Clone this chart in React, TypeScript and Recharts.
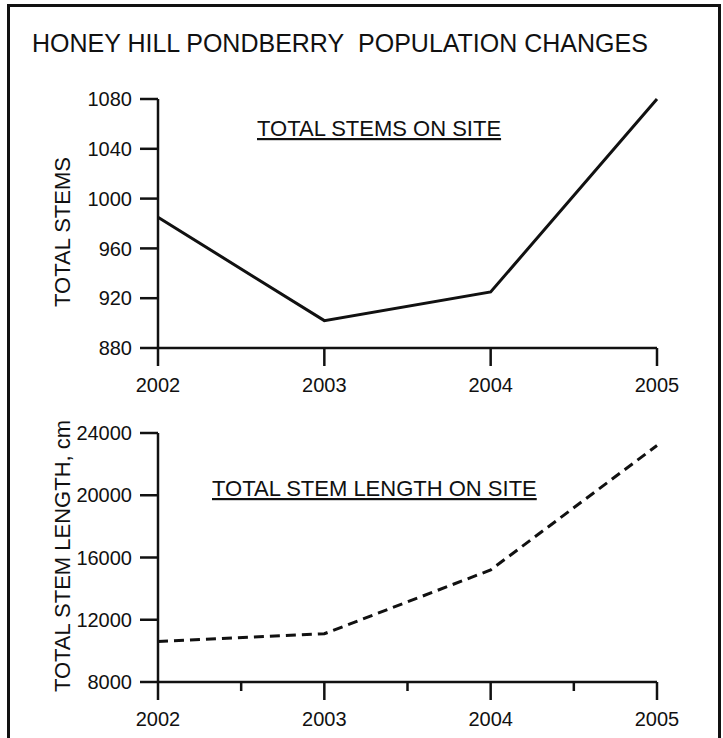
import React from "react";
import { Line, LineChart, XAxis, YAxis } from "recharts";

const YEARS = [2002, 2003, 2004, 2005];
const YEARS_WITH_HALVES = [2002, 2002.5, 2003, 2003.5, 2004, 2004.5, 2005];
const TOTAL_STEMS = [985, 902, 925, 1080];
const TOTAL_STEM_LENGTH = [10600, 11100, 15200, 23200];
const STEM_TICKS = [880, 920, 960, 1000, 1040, 1080];
const LENGTH_TICKS = [8000, 12000, 16000, 20000, 24000];

const stemsData = YEARS.map((year, i) => ({ year, value: TOTAL_STEMS[i] }));
const lengthData = YEARS.map((year, i) => ({ year, value: TOTAL_STEM_LENGTH[i] }));

const FONT = "'Liberation Sans', Arial, Helvetica, sans-serif";
const INK = "#111";
const axisLine = { stroke: INK, strokeWidth: 2.5 };
const tickFont = { fill: INK, fontSize: 20, fontFamily: FONT };

// Year ticks drawn by hand so half-year ticks can be shorter and unlabeled.
function YearTick(props: any) {
  const { x, y, payload } = props;
  const major = Number.isInteger(payload.value);
  return (
    <g>
      <line x1={x} x2={x} y1={y} y2={y + (major ? 18 : 9)} stroke={INK} strokeWidth={2.5} />
      {major && (
        <text x={x} y={y + 44} textAnchor="middle" fontSize={20} fontFamily={FONT} fill={INK}>
          {payload.value}
        </text>
      )}
    </g>
  );
}

function Panel({
  data,
  ticks,
  domain,
  height,
  top,
  xHeight,
  dashed,
  xTicks,
}: {
  data: { year: number; value: number }[];
  ticks: number[];
  domain: [number, number];
  height: number;
  top: number;
  xHeight: number;
  dashed?: boolean;
  xTicks: number[];
}) {
  return (
    <LineChart
      width={723}
      height={height}
      data={data}
      margin={{ top, right: 66, bottom: 0, left: 0 }}
    >
      <XAxis
        type="number"
        dataKey="year"
        domain={[2002, 2005]}
        ticks={xTicks}
        interval={0}
        tickSize={0}
        tickMargin={0}
        axisLine={axisLine}
        tickLine={false}
        tick={<YearTick />}
        height={xHeight}
      />
      <YAxis
        type="number"
        domain={domain}
        ticks={ticks}
        interval={0}
        width={158}
        tickSize={18}
        tickMargin={8}
        axisLine={axisLine}
        tickLine={axisLine}
        tick={tickFont}
      />
      <Line
        type="linear"
        dataKey="value"
        stroke={INK}
        strokeWidth={3}
        strokeDasharray={dashed ? "10 6" : undefined}
        dot={false}
        isAnimationActive={false}
      />
    </LineChart>
  );
}

export default function App() {
  return (
    <div
      style={{
        position: "absolute",
        left: 0,
        top: 0,
        width: 723,
        height: 738,
        overflow: "hidden",
        background: "#fff",
        fontFamily: FONT,
      }}
    >
      <div
        style={{
          position: "absolute",
          left: 7,
          top: 4,
          width: 708,
          height: 800,
          border: `3px solid ${INK}`,
        }}
      />
      <div style={{ position: "absolute", left: 0, top: 0 }}>
        <Panel
          data={stemsData}
          ticks={STEM_TICKS}
          domain={[880, 1080]}
          height={400}
          top={99}
          xHeight={52}
          xTicks={YEARS}
        />
      </div>
      <div style={{ position: "absolute", left: 0, top: 400 }}>
        <Panel
          data={lengthData}
          ticks={LENGTH_TICKS}
          domain={[8000, 24000]}
          height={338}
          top={33}
          xHeight={56}
          dashed
          xTicks={YEARS_WITH_HALVES}
        />
      </div>
      <svg
        width={723}
        height={738}
        style={{ position: "absolute", left: 0, top: 0, pointerEvents: "none" }}
        fontFamily={FONT}
        fill={INK}
      >
        <text x={32} y={52} fontSize={25}>
          HONEY HILL PONDBERRY&#160; POPULATION CHANGES
        </text>
        <text x={257} y={136} fontSize={22} textDecoration="underline">
          TOTAL STEMS ON SITE
        </text>
        <text x={212} y={496} fontSize={22} textDecoration="underline">
          TOTAL STEM LENGTH ON SITE
        </text>
        <text x={70} y={232} fontSize={22} textAnchor="middle" transform="rotate(-90 70 232)">
          TOTAL STEMS
        </text>
        <text x={70} y={556} fontSize={22} textAnchor="middle" transform="rotate(-90 70 556)">
          TOTAL STEM LENGTH, cm
        </text>
      </svg>
    </div>
  );
}
